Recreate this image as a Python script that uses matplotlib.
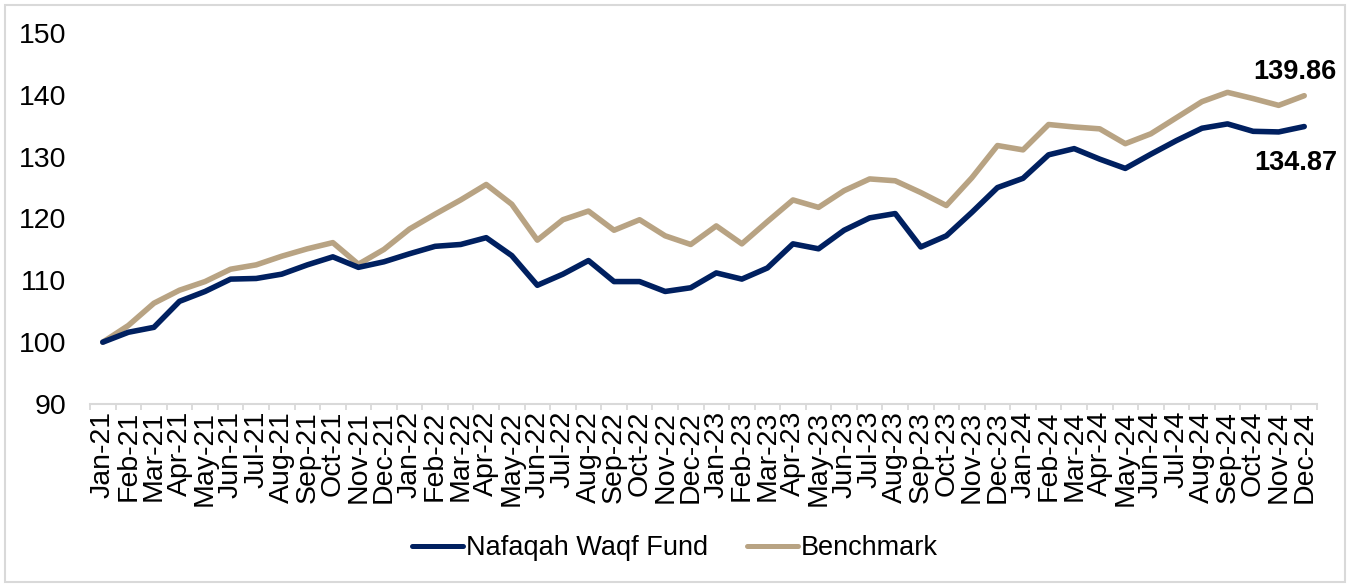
import numpy as np
import matplotlib
matplotlib.use("Agg")
import matplotlib.pyplot as plt
from matplotlib.patches import Rectangle

months = ["Jan-21", "Feb-21", "Mar-21", "Apr-21", "May-21", "Jun-21", "Jul-21", "Aug-21",
          "Sep-21", "Oct-21", "Nov-21", "Dec-21", "Jan-22", "Feb-22", "Mar-22", "Apr-22",
          "May-22", "Jun-22", "Jul-22", "Aug-22", "Sep-22", "Oct-22", "Nov-22", "Dec-22",
          "Jan-23", "Feb-23", "Mar-23", "Apr-23", "May-23", "Jun-23", "Jul-23", "Aug-23",
          "Sep-23", "Oct-23", "Nov-23", "Dec-23", "Jan-24", "Feb-24", "Mar-24", "Apr-24",
          "May-24", "Jun-24", "Jul-24", "Aug-24", "Sep-24", "Oct-24", "Nov-24", "Dec-24"]

fund = [100.0, 101.6, 102.4, 106.6, 108.2, 110.2, 110.3, 111.0,
        112.5, 113.8, 112.1, 113.0, 114.3, 115.5, 115.8, 116.9,
        114.0, 109.2, 111.0, 113.2, 109.8, 109.8, 108.2, 108.8,
        111.2, 110.2, 112.0, 115.9, 115.1, 118.1, 120.1, 120.8,
        115.4, 117.2, 121.0, 125.0, 126.5, 130.3, 131.3, 129.6,
        128.1, 130.4, 132.6, 134.6, 135.3, 134.1, 134.0, 134.87]

benchmark = [100.0, 102.7, 106.3, 108.4, 109.8, 111.8, 112.5, 113.9,
             115.1, 116.1, 112.6, 115.0, 118.3, 120.7, 123.0, 125.5,
             122.3, 116.5, 119.8, 121.2, 118.1, 119.8, 117.2, 115.8,
             118.8, 115.9, 119.5, 123.0, 121.8, 124.5, 126.4, 126.1,
             124.2, 122.1, 126.6, 131.8, 131.1, 135.2, 134.8, 134.5,
             132.1, 133.7, 136.3, 138.9, 140.4, 139.4, 138.3, 139.86]

series_names = ["Nafaqah Waqf Fund", "Benchmark"]
y_ticks = [90, 100, 110, 120, 130, 140, 150]

NAVY = "#002060"
TAN = "#B8A383"
GRID = "#D9D9D9"

plt.rcParams['font.family'] = ['Liberation Sans', 'DejaVu Sans']

W, H = 1351, 587
fig = plt.figure(figsize=(W / 100, H / 100), dpi=100)
ax = fig.add_axes([90 / W, 1 - 404 / H, (1317 - 90) / W, (404 - 33) / H])

x = np.arange(len(months))
ax.plot(x, fund, color=NAVY, lw=4.0, solid_joinstyle='round', solid_capstyle='round',
        label=series_names[0], zorder=3)
ax.plot(x, benchmark, color=TAN, lw=4.0, solid_joinstyle='round', solid_capstyle='round',
        label=series_names[1], zorder=2)

ax.set_xlim(-0.5, len(months) - 0.5)
ax.set_ylim(y_ticks[0], y_ticks[-1])
ax.set_yticks(y_ticks)
ax.tick_params(axis='y', length=0, pad=17, labelsize=20.5, labelcolor='black')

ax.set_xticks(x)
ax.set_xticklabels(months, rotation=90, fontsize=20.5)
ax.tick_params(axis='x', which='major', length=0, pad=5)
ax.set_xticks(np.arange(-0.5, len(months), 1), minor=True)
ax.tick_params(axis='x', which='minor', length=4.5, width=1.3, color=GRID)

for s in ['top', 'right', 'left']:
    ax.spines[s].set_visible(False)
ax.spines['bottom'].set_color(GRID)
ax.spines['bottom'].set_linewidth(1.5)

# end labels
ax.annotate(f"{benchmark[-1]:.2f}", (x[-1], benchmark[-1]), xytext=(-7, 17),
            textcoords='offset points', ha='center', va='center',
            fontsize=19.5, fontweight='bold')
ax.annotate(f"{fund[-1]:.2f}", (x[-1], fund[-1]), xytext=(-6, -26),
            textcoords='offset points', ha='center', va='center',
            fontsize=19.5, fontweight='bold')

leg = fig.legend(loc='center', bbox_to_anchor=(675 / W, 1 - 548 / H), ncol=2,
                 frameon=False, fontsize=19.5, handlelength=1.9, handletextpad=0.12,
                 columnspacing=1.4)
for line in leg.get_lines():
    line.set_linewidth(3.6)

fig.patches.append(Rectangle((5 / W, 5 / H), (1345 - 5) / W, (582 - 5) / H,
                             transform=fig.transFigure, fill=False,
                             edgecolor=GRID, lw=1.5))

fig.savefig("out.png", dpi=100)
